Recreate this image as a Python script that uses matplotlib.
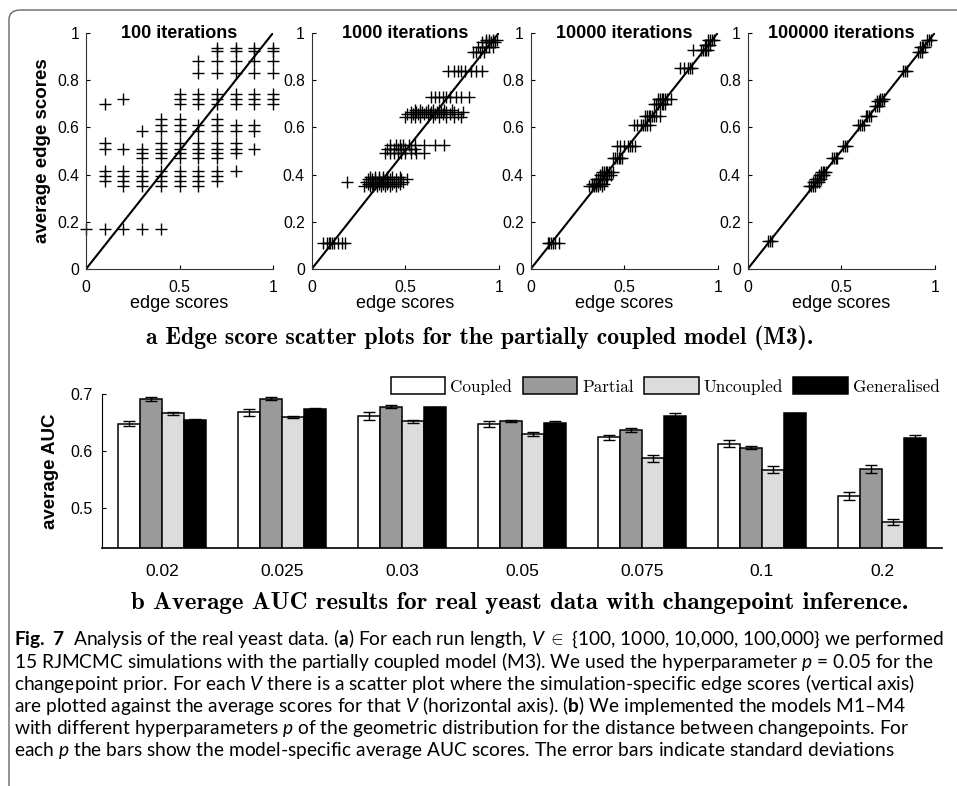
import numpy as np
import matplotlib
matplotlib.use("Agg")
import matplotlib.pyplot as plt
from matplotlib.patches import FancyBboxPatch

plt.rcParams['font.family'] = ['Liberation Sans', 'DejaVu Sans']
plt.rcParams['mathtext.fontset'] = 'custom'
plt.rcParams['mathtext.rm'] = 'Lato'
plt.rcParams['mathtext.it'] = 'Lato:italic'
plt.rcParams['mathtext.bf'] = 'Lato:bold'

# ---- panel a: edge scores (y level = average score, x = per-simulation scores)
iterations = ['100 iterations', '1000 iterations', '10000 iterations', '100000 iterations']

rows_100 = [
    (0.17, [0.0, 0.1, 0.2, 0.3, 0.4]),
    (0.70, [0.1, 0.5, 0.6, 0.7, 0.8, 0.9, 1.0]),
    (0.72, [0.2, 0.5, 0.6, 0.7, 0.8, 0.9, 1.0]),
    (0.74, [0.5, 0.6, 0.7, 0.8, 0.9, 1.0]),
    (0.83, [0.6, 0.7, 0.8, 0.9, 1.0]),
    (0.88, [0.6, 0.7, 0.8, 0.9, 1.0]),
    (0.925, [0.7, 0.8, 0.9, 1.0]),
    (0.935, [0.7, 0.8, 0.9, 1.0]),
    (0.585, [0.3, 0.4, 0.5, 0.6, 0.7, 0.8, 0.9]),
    (0.61, [0.4, 0.5, 0.6, 0.7, 0.8, 0.9]),
    (0.635, [0.4, 0.5, 0.7]),
    (0.535, [0.1, 0.4, 0.5, 0.6, 0.7, 0.8]),
    (0.51, [0.1, 0.2, 0.3, 0.4, 0.5, 0.6, 0.7, 0.8, 0.9]),
    (0.49, [0.3, 0.4, 0.5, 0.6, 0.7, 0.8]),
    (0.47, [0.3, 0.4, 0.5, 0.6, 0.7]),
    (0.415, [0.1, 0.2, 0.3, 0.4, 0.5, 0.6, 0.7, 0.8]),
    (0.395, [0.1, 0.2, 0.3, 0.4, 0.5, 0.6, 0.7]),
    (0.375, [0.1, 0.2, 0.3, 0.4, 0.5, 0.6, 0.7]),
    (0.35, [0.2, 0.3, 0.4, 0.5, 0.6]),
]

rows_1000 = [
    (0.11, [0.06, 0.08, 0.09, 0.10, 0.11, 0.12, 0.14, 0.16, 0.18]),
    (0.37, [0.19]),
    (0.35, [0.28, 0.31, 0.33, 0.35, 0.37, 0.39, 0.42, 0.45]),
    (0.36, [0.30, 0.32, 0.34, 0.36, 0.38, 0.40, 0.43, 0.47]),
    (0.37, [0.29, 0.31, 0.33, 0.35, 0.37, 0.39, 0.41, 0.44, 0.46, 0.49]),
    (0.38, [0.30, 0.32, 0.34, 0.36, 0.38, 0.40, 0.42, 0.45, 0.48, 0.51]),
    (0.39, [0.31, 0.34, 0.36, 0.38, 0.40, 0.43, 0.47]),
    (0.49, [0.39, 0.42, 0.44, 0.46, 0.48, 0.50, 0.53, 0.56, 0.60]),
    (0.51, [0.40, 0.42, 0.44, 0.46, 0.48, 0.50, 0.53, 0.55]),
    (0.525, [0.42, 0.45, 0.47, 0.49, 0.52, 0.55, 0.60, 0.66, 0.71]),
    (0.645, [0.50, 0.53, 0.55, 0.58, 0.62, 0.65, 0.68, 0.72, 0.76, 0.80]),
    (0.655, [0.51, 0.54, 0.57, 0.60, 0.63, 0.66, 0.70, 0.74, 0.78]),
    (0.665, [0.53, 0.56, 0.59, 0.61, 0.64, 0.67, 0.69, 0.72, 0.76, 0.81]),
    (0.675, [0.55, 0.58, 0.62, 0.65, 0.68, 0.71, 0.75]),
    (0.73, [0.64, 0.66, 0.68, 0.70, 0.72, 0.74, 0.77, 0.80, 0.84]),
    (0.84, [0.73, 0.76, 0.78, 0.80, 0.82, 0.85, 0.88, 0.91]),
    (0.92, [0.86, 0.88, 0.90, 0.92]),
    (0.94, [0.89, 0.91, 0.93, 0.95, 0.97]),
    (0.96, [0.91, 0.93, 0.95, 0.96, 0.98]),
    (0.97, [0.93, 0.95, 0.97, 0.99]),
]

rows_10000 = [
    (0.11, [0.09, 0.10, 0.11, 0.12, 0.13, 0.15]),
    (0.35, [0.31, 0.33, 0.34, 0.35, 0.36, 0.38]),
    (0.36, [0.33, 0.34, 0.35, 0.36, 0.37, 0.39]),
    (0.38, [0.35, 0.36, 0.37, 0.38, 0.39, 0.40, 0.41]),
    (0.40, [0.37, 0.38, 0.39, 0.40, 0.41, 0.43]),
    (0.41, [0.38, 0.39, 0.40, 0.41, 0.42, 0.44]),
    (0.47, [0.44, 0.45, 0.46, 0.47, 0.48, 0.49]),
    (0.52, [0.46, 0.48, 0.50, 0.52, 0.53, 0.54, 0.56]),
    (0.61, [0.55, 0.57, 0.59, 0.60, 0.61, 0.62, 0.64]),
    (0.65, [0.61, 0.62, 0.63, 0.64, 0.65, 0.66, 0.67, 0.69]),
    (0.70, [0.66, 0.67, 0.68, 0.69, 0.70, 0.71, 0.72]),
    (0.72, [0.68, 0.69, 0.70, 0.71, 0.72, 0.73, 0.75]),
    (0.85, [0.80, 0.82, 0.84, 0.85, 0.86]),
    (0.93, [0.87, 0.91, 0.92, 0.93, 0.94, 0.95]),
    (0.95, [0.93, 0.94, 0.95, 0.96]),
    (0.97, [0.95, 0.96, 0.97, 0.98]),
]

rows_100000 = [
    (0.12, [0.11, 0.12, 0.13]),
    (0.35, [0.33, 0.34, 0.35, 0.36]),
    (0.37, [0.35, 0.36, 0.37, 0.38]),
    (0.38, [0.36, 0.37, 0.38, 0.39]),
    (0.40, [0.38, 0.39, 0.40, 0.41]),
    (0.41, [0.39, 0.40, 0.41, 0.42]),
    (0.47, [0.45, 0.46, 0.47, 0.48]),
    (0.52, [0.51, 0.52, 0.53]),
    (0.61, [0.59, 0.60, 0.61, 0.62]),
    (0.65, [0.63, 0.64, 0.65, 0.66]),
    (0.69, [0.68, 0.69, 0.70]),
    (0.71, [0.69, 0.70, 0.71, 0.72]),
    (0.72, [0.71, 0.72, 0.73]),
    (0.84, [0.83, 0.84, 0.85]),
    (0.92, [0.91, 0.92, 0.93]),
    (0.94, [0.92, 0.93, 0.94, 0.95]),
    (0.97, [0.96, 0.97, 0.98]),
]

# ---- panel b: average AUC
p_labels = ['0.02', '0.025', '0.03', '0.05', '0.075', '0.1', '0.2']
models = ['Coupled', 'Partial', 'Uncoupled', 'Generalised']
coupled = [0.648, 0.668, 0.661, 0.647, 0.624, 0.613, 0.521]
coupled_sd = [0.004, 0.006, 0.007, 0.005, 0.004, 0.006, 0.007]
partial = [0.691, 0.692, 0.678, 0.653, 0.637, 0.606, 0.568]
partial_sd = [0.003, 0.003, 0.002, 0.002, 0.003, 0.003, 0.007]
uncoupled = [0.666, 0.660, 0.652, 0.630, 0.587, 0.567, 0.475]
uncoupled_sd = [0.003, 0.002, 0.003, 0.003, 0.006, 0.006, 0.005]
generalised = [0.655, 0.674, 0.677, 0.649, 0.661, 0.666, 0.623]
generalised_sd = [0.001, 0.001, 0.001, 0.004, 0.005, 0.001, 0.005]

caption = [
    r"$\mathbf{Fig.\ 7}$  Analysis of the real yeast data. ($\mathbf{a}$) For each run length, $V$ $\in$ {100, 1000, 10,000, 100,000} we performed",
    r"15 RJMCMC simulations with the partially coupled model (M3). We used the hyperparameter $p$ = 0.05 for the",
    r"changepoint prior. For each $V$ there is a scatter plot where the simulation-specific edge scores (vertical axis)",
    r"are plotted against the average scores for that $V$ (horizontal axis). ($\mathbf{b}$) We implemented the models M1–M4",
    r"with different hyperparameters $p$ of the geometric distribution for the distance between changepoints. For",
    r"each $p$ the bars show the model-specific average AUC scores. The error bars indicate standard deviations",
]

W, H = 957, 786
fig = plt.figure(figsize=(W / 100, H / 100), dpi=100)

# rounded frame (only top/left visible)
fig.patches.append(FancyBboxPatch((9 / W, -0.05), 1.2, 1 - 10 / H + 0.05,
                                  boxstyle="round,pad=0,rounding_size=0.012",
                                  transform=fig.transFigure, fill=False,
                                  edgecolor='#666666', linewidth=1.0))

panel_rows = [rows_100, rows_1000, rows_10000, rows_100000]
lefts = [86, 311.7, 530.7, 747.7]
for k, (rows, title) in enumerate(zip(panel_rows, iterations)):
    ax = fig.add_axes([lefts[k] / W, 1 - 269 / H, 187 / W, 236 / H])
    xs = np.concatenate([np.array(r[1]) for r in rows])
    ys = np.concatenate([np.full(len(r[1]), r[0]) for r in rows])
    ax.plot(xs, ys, '+', color='black', markersize=8.5, markeredgewidth=1.0, clip_on=False)
    ax.plot([0, 1], [0, 1], color='black', linewidth=1.5)
    ax.set_xlim(0, 1)
    ax.set_ylim(0, 1)
    ax.set_xticks([0, 0.5, 1])
    ax.set_xticklabels(['0', '0.5', '1'])
    ax.set_yticks([0, 0.2, 0.4, 0.6, 0.8, 1])
    ax.set_yticklabels(['0', '0.2', '0.4', '0.6', '0.8', '1'])
    ax.tick_params(direction='in', length=3, labelsize=11.3, width=0.8)
    ax.tick_params(axis='x', pad=8)
    ax.tick_params(axis='y', pad=5)
    for s in ['top', 'right']:
        ax.spines[s].set_visible(False)
    for s in ['left', 'bottom']:
        ax.spines[s].set_linewidth(0.8)
        ax.spines[s].set_color('#333333')
    ax.text(0.5, 1.0, title, transform=ax.transAxes, ha='center', va='center',
            fontsize=13, fontweight='bold')
    ax.set_xlabel('edge scores', fontsize=13, labelpad=0)
    if k == 0:
        ax.set_ylabel('average edge scores', fontsize=13.5, fontweight='bold', labelpad=4)

fig.text(480 / W, 1 - 338 / H, r"a Edge score scatter plots for the partially coupled model (M3).",
         ha='center', va='center', fontsize=17.1, family='cmb10')

# bar chart
axb = fig.add_axes([102 / W, 1 - 547.7 / H, 840 / W, 153.7 / H])
x = np.arange(1, len(p_labels) + 1)
w = 0.183
series = [(coupled, coupled_sd, 'white'), (partial, partial_sd, '#9a9a9a'),
          (uncoupled, uncoupled_sd, '#dcdcdc'), (generalised, generalised_sd, 'black')]
handles = []
for i, (vals, sd, col) in enumerate(series):
    b = axb.bar(x + (i - 1.5) * w, vals, w, yerr=sd, color=col, edgecolor='black',
                linewidth=1.1, capsize=4,
                error_kw=dict(elinewidth=1.0, capthick=1.0, ecolor='black'))
    handles.append(b)
axb.set_xlim(0.5, 7.5)
axb.set_ylim(0.43, 0.70)
axb.set_yticks([0.5, 0.6, 0.7])
axb.set_yticklabels(['0.5', '0.6', '0.7'])
axb.set_xticks(x)
axb.set_xticklabels(p_labels)
axb.tick_params(axis='x', length=0, pad=12, labelsize=12.5)
axb.tick_params(axis='y', direction='in', length=3, pad=7, labelsize=11.5)
for s in ['top', 'right']:
    axb.spines[s].set_visible(False)
axb.spines['bottom'].set_linewidth(1.2)
axb.set_ylabel('average AUC', fontsize=13.5, fontweight='bold', labelpad=8)

leg = fig.legend(handles, models, loc='center right', bbox_to_anchor=(940 / W, 1 - 386 / H),
                 ncol=4, frameon=False, prop={'family': 'cmr10', 'size': 12.3},
                 handlelength=3.2, handleheight=1.1, handletextpad=0.3,
                 columnspacing=0.6, borderpad=0, borderaxespad=0)

fig.text(520 / W, 1 - 603 / H, r"b Average AUC results for real yeast data with changepoint inference.",
         ha='center', va='center', fontsize=17.9, family='cmb10')

for i, line in enumerate(caption):
    fig.text(14 / W, 1 - (639 + i * 22.3) / H, line, ha='left', va='center',
             fontsize=13.8, family='Lato')

fig.savefig('out.png', dpi=100)
